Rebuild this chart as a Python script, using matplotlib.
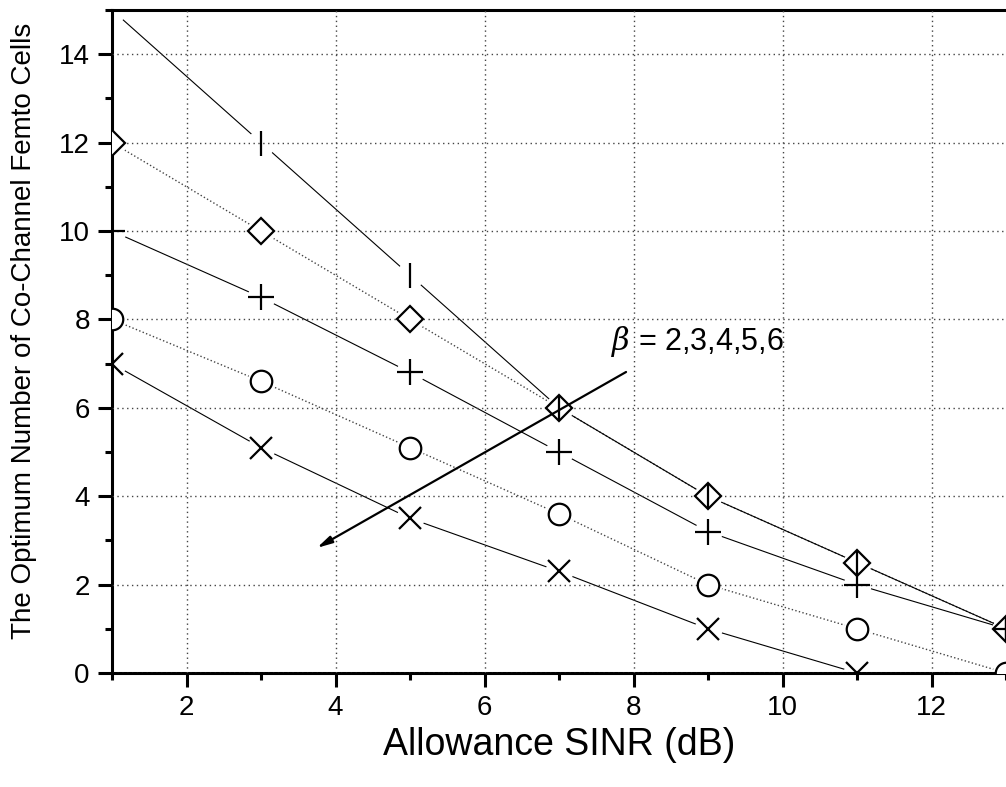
import matplotlib
matplotlib.use("Agg")
import matplotlib.pyplot as plt
from matplotlib.ticker import MultipleLocator

plt.rcParams['font.family'] = ['Liberation Sans', 'DejaVu Sans']
plt.rcParams['mathtext.fontset'] = 'dejavuserif'

x = [1, 3, 5, 7, 9, 11, 13]
beta6 = [15, 12, 9, 6, 4, 2.5, 1]          # "|" markers
beta5 = [12, 10, 8, 6, 4, 2.5, 1]          # diamonds
beta4 = [10, 8.5, 6.8, 5, 3.2, 2, 1]       # plus
beta3 = [8, 6.6, 5.1, 3.6, 2, 1, 0]        # circles
beta2_x = [1, 3, 5, 7, 9, 11]
beta2 = [7, 5.1, 3.5, 2.3, 1, 0]           # crosses

xlabel = "Allowance SINR (dB)"
ylabel = "The Optimum Number of Co-Channel Femto Cells"
annot = r"$\beta$ = 2,3,4,5,6"

fig = plt.figure(figsize=(10.06, 7.87), dpi=100)
ax = fig.add_axes([112/1006, 1-673/787, 1-112/1006, (673-10)/787])

series = [
    (x, beta5, 'D', 13.0, ':', '#444444', 1.0),
    (x, beta6, '|', 18.0, '-', 'black', 0.8),
    (x, beta4, '+', 18.5, '-', 'black', 0.8),
    (x, beta3, 'o', 15.5, ':', '#444444', 1.0),
    (beta2_x, beta2, 'x', 15.5, '-', 'black', 0.8),
]

for xs, ys, m, ms, ls, lc, lw in series:
    ax.plot(xs, ys, linestyle=ls, color=lc, lw=lw, zorder=1)
for xs, ys, m, ms, ls, lc, lw in series:
    ax.plot(xs, ys, linestyle='none', marker='o', ms=20, mfc='white',
            mec='none', zorder=1.5)
for i, (xs, ys, m, ms, ls, lc, lw) in enumerate(series):
    ax.plot(xs, ys, linestyle='none', marker=m, ms=ms, mfc='white',
            mec='black', mew=1.6, zorder=3 + i * 0.1)

ax.set_xlim(1, 13)
ax.set_ylim(0, 15)
ax.xaxis.set_major_locator(MultipleLocator(2))
ax.xaxis.set_minor_locator(MultipleLocator(1))
ax.yaxis.set_major_locator(MultipleLocator(2))
ax.yaxis.set_minor_locator(MultipleLocator(1))
ax.set_xticks([2, 4, 6, 8, 10, 12])
ax.grid(True, which='major', linestyle=(0, (1, 2.5)), color='#444444',
        lw=1.0, zorder=2)
ax.set_axisbelow(False)

for s in ['left', 'bottom', 'top']:
    ax.spines[s].set_linewidth(2.2)
ax.spines['right'].set_visible(False)
ax.tick_params(which='major', direction='out', length=10, width=2.2,
               labelsize=20, top=False, right=False, pad=6)
ax.tick_params(which='minor', direction='out', length=5, width=2.2,
               top=False, right=False)

ax.set_xlabel(xlabel, fontsize=27, va='center')
ax.xaxis.set_label_coords(0.5, (673 - 745) / 663)
ax.set_ylabel(ylabel, fontsize=20, va='center')
ax.yaxis.set_label_coords((24 - 112) / 894, (673 - 331) / 663)

ax.annotate('', xy=(3.75, 2.83), xytext=(7.9, 6.81),
            arrowprops=dict(arrowstyle='-|>,head_length=0.9,head_width=0.22',
                            color='black', lw=1.6, shrinkA=0, shrinkB=0),
            zorder=5)
ax.text(7.7, 7.5, annot, fontsize=22, ha='left', va='center', zorder=5)

for t in ax.get_xticklabels() + ax.get_yticklabels():
    t.set_zorder(6)

fig.savefig("out.png", dpi=100)
